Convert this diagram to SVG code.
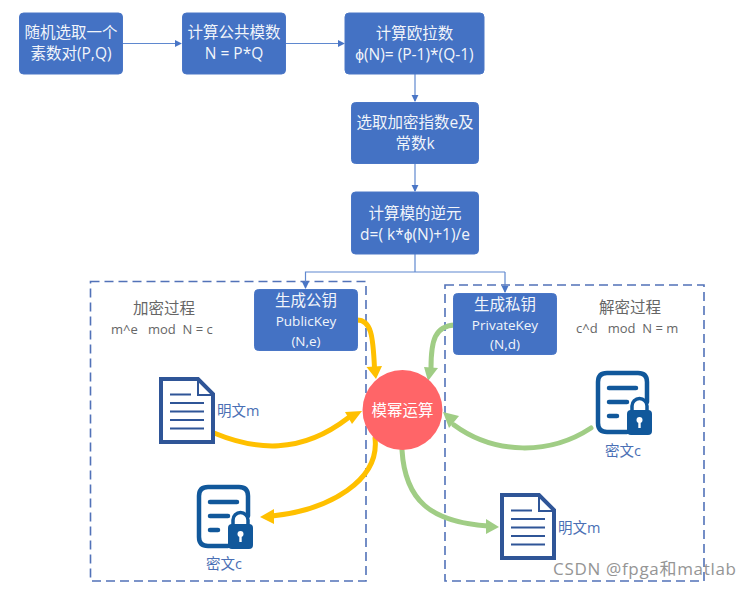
<svg xmlns="http://www.w3.org/2000/svg" width="751" height="589" viewBox="0 0 751 589">
<defs>
<style>
.f{font-family:"Open Sans","Noto Sans CJK SC",sans-serif}
.box{fill:#4472c4;stroke:#4a76c6;stroke-width:1}
.bt{fill:#fff;font-size:15.500px;text-anchor:middle;opacity:.93}
.bs{font-size:13.500px}
.dash{fill:none;stroke:#5272b8;stroke-width:1.6;stroke-dasharray:9 5}
.thin{fill:none;stroke:#5f88cf;stroke-width:1.2}
.y{fill:none;stroke:#ffc000;stroke-width:5;stroke-linecap:round}
.g{fill:none;stroke:#a0cd85;stroke-width:5;stroke-linecap:round}
.yh{fill:#ffc000}.gh{fill:#a0cd85}
.gr{fill:#666;font-size:15.500px}
.grs{fill:#666;font-size:13px}
.lb{fill:#4a6fb5;font-size:14.500px}
.ic{fill:#fff;stroke:#2f5597;stroke-width:4}
.il{fill:none;stroke:#2f5597;stroke-width:2}
.lk{fill:none;stroke:#11589b;stroke-width:4.500;stroke-linecap:round;stroke-linejoin:round}
</style>
<marker id="ah" viewBox="0 0 8 8" refX="7" refY="4" markerWidth="6" markerHeight="6" orient="auto"><path d="M0 0L8 4L0 8Z" fill="#4a76c6"/></marker>
<g id="doc"><path class="ic" d="M2 2H39L54 17V65H2Z"/><path class="il" d="M39 3V18H53"/><path class="il" d="M11 17.500H32M11 26H45M11 34.500H45M11 43H45M11 51.500H45"/></g>
<g id="lockdoc"><path class="lk" d="M51 31V11Q51 2 42 2H11Q2 2 2 11V52Q2 61 11 61H31"/><path class="lk" d="M13 17H40M13 31H31M13 45H21"/><rect x="31" y="39" width="25" height="25" rx="4" fill="#11589b"/><path d="M36 40V35A7.500 7.500 0 0 1 51 35V40" fill="none" stroke="#11589b" stroke-width="3.500"/><circle cx="43.500" cy="49" r="3" fill="#fff"/><rect x="42.300" y="50" width="2.400" height="7" fill="#fff"/></g>
</defs>
<rect width="751" height="589" fill="#fff"/>
<g id="frames"><rect class="dash" x="90.500" y="281.500" width="275.500" height="299.500"/><rect class="dash" x="445" y="285" width="259" height="296"/></g>
<g id="connectors">
<path class="thin" marker-end="url(#ah)" d="M122.500 43.500H181"/>
<path class="thin" marker-end="url(#ah)" d="M285 43.500H344"/>
<path class="thin" marker-end="url(#ah)" d="M415 74V101"/>
<path class="thin" marker-end="url(#ah)" d="M415 164V191"/>
<path class="thin" d="M415 254V272"/>
<path class="thin" marker-end="url(#ah)" d="M505 272H305.500V288"/>
<path class="thin" marker-end="url(#ah)" d="M505 272V292"/>
<path class="y" d="M357 320C371 320 373 335 374.500 368"/><path class="yh" d="M366.500 367L382 366L376 379Z"/>
<path class="y" d="M214 433C255 450 300 455 348 418"/><path class="yh" d="M362 411L352 424L345 412Z"/>
<path class="y" d="M375 438C380 480 330 510 272 516"/><path class="yh" d="M260 517L274 509L274 524Z"/>
<path class="g" d="M455 325C435 326 431 340 431 368"/><path class="gh" d="M428 381L424 367L438 368Z"/>
<path class="g" d="M591 428C550 455 495 455 454 425"/><path class="gh" d="M443 412L459 416L449 428Z"/>
<path class="g" d="M402 450C405 500 430 522 488 526"/><path class="gh" d="M499 527L486 519L486 534Z"/>
</g>
<g id="n1"><rect class="box" x="19.500" y="13" width="103" height="61" rx="4"/><text class="f bt" x="71" y="38">随机选取一个</text><text class="f bt" x="71" y="59">素数对(P,Q)</text></g>
<g id="n2"><rect class="box" x="182.500" y="13" width="103" height="61" rx="4"/><text class="f bt" x="234" y="38">计算公共模数</text><text class="f bt" x="234" y="59">N = P*Q</text></g>
<g id="n3"><rect class="box" x="345" y="13" width="139" height="61" rx="4"/><text class="f bt" x="414.500" y="39">计算欧拉数</text><text class="f bt" x="414.500" y="60">ϕ(N)= (P-1)*(Q-1)</text></g>
<g id="n4"><rect class="box" x="351.500" y="102.500" width="127" height="61" rx="4"/><text class="f bt" x="415" y="128">选取加密指数e及</text><text class="f bt" x="415" y="149">常数k</text></g>
<g id="n5"><rect class="box" x="351.500" y="192" width="127" height="62" rx="4"/><text class="f bt" x="415" y="219">计算模的逆元</text><text class="f bt" x="415" y="240">d=( k*ϕ(N)+1)/e</text></g>
<g id="pub"><rect class="box" x="254.500" y="289.500" width="103" height="61" rx="4"/><text class="f bt" x="306" y="306">生成公钥</text><text class="f bt bs" x="306" y="326">PublicKey</text><text class="f bt bs" x="306" y="346">(N,e)</text></g>
<g id="pri"><rect class="box" x="453.500" y="293.500" width="103" height="61" rx="4"/><text class="f bt" x="505" y="310">生成私钥</text><text class="f bt bs" x="505" y="330">PrivateKey</text><text class="f bt bs" x="505" y="349">(N,d)</text></g>
<g id="op"><circle cx="402.500" cy="410" r="40" fill="#ff6568"/><text class="f" x="402.500" y="415.500" fill="#fff" font-size="15.500" text-anchor="middle">模幂运算</text></g>
<g id="enc"><text class="f gr" x="133" y="314">加密过程</text><text class="f grs" x="111" y="334" xml:space="preserve">m^e   mod  N = c</text></g>
<g id="dec"><text class="f gr" x="599" y="313">解密过程</text><text class="f grs" x="576" y="333" xml:space="preserve">c^d   mod  N = m</text></g>
<g id="m1"><use href="#doc" x="159" y="377"/><text class="f lb" x="217" y="416">明文m</text></g>
<g id="m2"><use href="#doc" x="500" y="493"/><text class="f lb" x="558" y="533">明文m</text></g>
<g id="c1"><use href="#lockdoc" x="197" y="485"/><text class="f lb" x="206" y="569">密文c</text></g>
<g id="c2"><use href="#lockdoc" x="596" y="371"/><text class="f lb" x="605" y="456">密文c</text></g>
<text class="f" x="553" y="575" fill="#8a8a8a" font-size="17" opacity=".9" textLength="183">CSDN @fpga和matlab</text>
</svg>
